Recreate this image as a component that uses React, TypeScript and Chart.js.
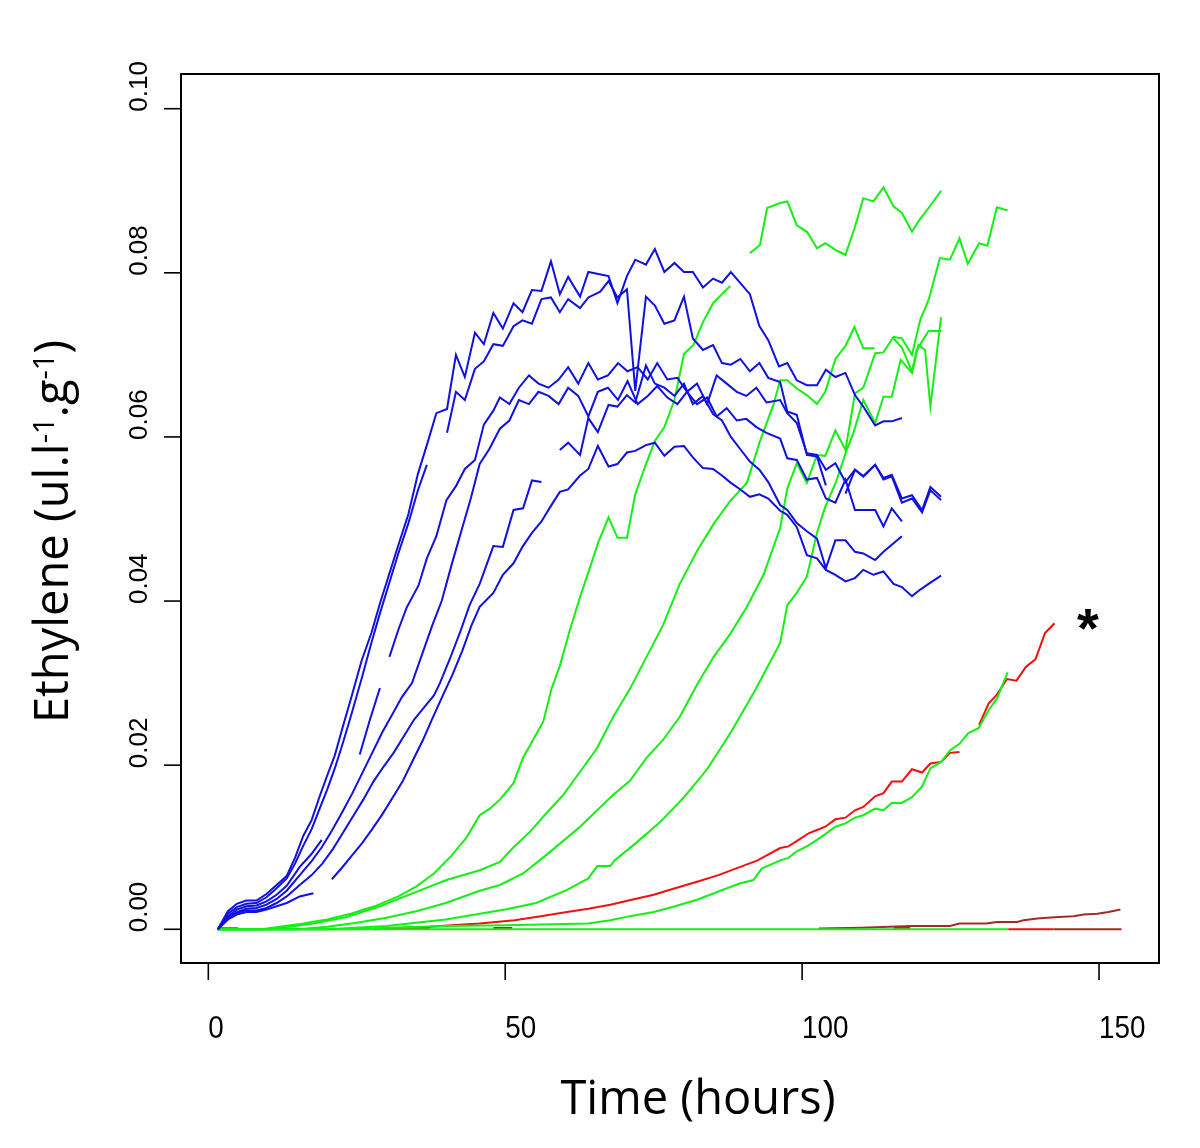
import React, { useEffect, useRef } from "react";
import { Chart, registerables } from "chart.js";

Chart.register(...registerables);

type P = [number, number] | null;

// ---- axis ticks ----
const xTickValues = [0, 50, 100, 150];
const xTickLabels = ["0", "50", "100", "150"];
const yTickValues = [0, 0.02, 0.04, 0.06, 0.08, 0.1];
const yTickLabels = ["0.00", "0.02", "0.04", "0.06", "0.08", "0.10"];

// ---- blue series ----
const blueA1: P[] = [[1.6,0],[3.3,0.0022],[4.8,0.0031],[6.4,0.0035],[8.1,0.0035],[9.8,0.0043],[11.5,0.0054],[13.2,0.0065],[14.6,0.0087],[16.0,0.0114],[17.4,0.0133],[18.8,0.0163],[19.9,0.0185],[21.3,0.0212],[22.7,0.0248],[24.1,0.0283],[25.8,0.0327],[27.5,0.0362],[28.9,0.0397],[30.6,0.0436],[32.0,0.0468],[33.7,0.0506],[35.3,0.0555],[36.8,0.0590],[38.4,0.0629],[40.2,0.0634],[41.7,0.0700],[43.2,0.0673],[44.9,0.0727],[46.4,0.0713],[48.0,0.0751],[49.6,0.0732],[51.4,0.0763],[52.9,0.0752],[54.5,0.0779],[56.1,0.0778],[57.7,0.0814],[59.2,0.0774],[60.6,0.0795],[62.6,0.0771],[64.0,0.0801],[67.4,0.0796],[68.9,0.0763],[70.5,0.0796],[71.9,0.0816],[73.7,0.0810],[75.2,0.0829],[76.8,0.0801],[78.5,0.0812],[80.1,0.0801],[81.6,0.0801],[83.3,0.0782],[85.0,0.0793],[86.5,0.0788],[88.0,0.0801],[91.2,0.0774],[92.8,0.0735],[94.3,0.0718],[96.1,0.0686],[97.5,0.0690],[99.1,0.0669],[100.8,0.0663],[102.5,0.0663],[104.0,0.0682],[105.6,0.0673],[107.3,0.0678],[108.9,0.0651],[110.3,0.0637],[112.3,0.0614],[113.7,0.0619],[115.1,0.0619],[116.8,0.0623]];
const blueA2: P[] = [[1.6,0],[3.3,0.0019],[4.8,0.0027],[6.4,0.0031],[8.1,0.0032],[9.8,0.0039],[11.5,0.0050],[13.2,0.0062],[14.6,0.0080],[16.0,0.0102],[17.4,0.0122],[18.8,0.0148],[20.0,0.0170],[21.3,0.0196],[22.7,0.0228],[24.1,0.0262],[25.8,0.0305],[27.5,0.0350],[28.9,0.0385],[30.6,0.0425],[32.0,0.0458],[33.7,0.0495],[35.3,0.0535],[36.8,0.0566],null,[40.2,0.0605],[41.7,0.0655],[43.2,0.0645],[44.9,0.0683],[46.4,0.0692],[48.0,0.0713],[49.6,0.0711],[51.4,0.0735],[52.9,0.0742],[54.5,0.0738],[56.1,0.0768],[57.7,0.0770],[59.2,0.0752],[60.6,0.0768],[62.6,0.0757],[64.0,0.0770],[66.0,0.0777],[67.4,0.0790],[68.9,0.0770],[70.5,0.0780],[71.9,0.0656],[73.7,0.0771],[75.2,0.0760],[76.8,0.0738],[78.5,0.0742],[80.1,0.0771],[81.6,0.0720],[83.3,0.0706],[85.0,0.0712],[86.5,0.0690],[88.0,0.0688],[89.6,0.0695],[91.2,0.0680],[92.8,0.0690],[94.3,0.0672],[96.3,0.0667],[97.5,0.0631],[99.1,0.0627],[100.8,0.0578],[102.5,0.0576],[104.0,0.0541],null,[107.3,0.0531],[108.9,0.0560],[110.3,0.0552],[112.3,0.0566],[113.7,0.0550],[115.1,0.0554],[116.8,0.0525],[118.5,0.0529],[120.2,0.0511],[121.6,0.0539],[123.4,0.0527]];
const blueB1: P[] = [[1.6,0],[3.3,0.0016],[4.8,0.0024],[6.4,0.0028],[8.1,0.0029],[9.8,0.0034],[11.5,0.0042],[13.2,0.0053],[15.4,0.0076],[17.4,0.0092],[19.1,0.0109],null,[25.5,0.0213],[27.2,0.0255],[28.9,0.0294],null,[30.5,0.0332],[32.0,0.0365],[33.4,0.0392],[35.4,0.0419],[36.8,0.0452],[38.4,0.0479],[40.1,0.0523],[41.7,0.0540],[43.2,0.0561],[44.9,0.0572],[46.4,0.0615],[48.0,0.0632],[49.1,0.0648],[50.7,0.0640],[52.3,0.0660],[54.0,0.0675],[55.6,0.0665],[57.3,0.0660],[59.0,0.0670],[60.6,0.0685],[62.3,0.0665],[64.0,0.0690],[65.6,0.0670],[67.3,0.0675],[69.0,0.0690],[70.6,0.0680],[72.3,0.0685],[74.0,0.0670],[75.6,0.0690],[77.3,0.0670],[79.0,0.0672],[80.6,0.0655],[82.3,0.0665],[84.0,0.0640],[85.6,0.0675],[87.3,0.0665],[89.0,0.0655],[90.6,0.0650],[92.3,0.0660],[94.0,0.0642],[96.3,0.0645],[97.5,0.0629],[99.1,0.0617],[100.8,0.0580],[102.5,0.0578],[104.0,0.0560],[105.6,0.0568],[107.3,0.0545],[108.9,0.0560],[110.3,0.0552],[112.3,0.0566],[113.7,0.0548],[115.1,0.0552],[116.8,0.0520],[118.5,0.0525],[120.2,0.0508],[121.6,0.0535],[123.4,0.0523]];
const blueB2: P[] = [[1.6,0],[3.3,0.0014],[4.8,0.0021],[6.4,0.0025],[8.1,0.0026],[9.8,0.0030],[11.5,0.0037],[13.2,0.0047],[15.4,0.0066],[17.4,0.0083],[19.1,0.0100],[20.8,0.0120],[22.5,0.0142],[24.2,0.0165],[25.9,0.0190],[27.6,0.0215],[29.3,0.0240],[31.0,0.0262],[32.6,0.0283],[34.3,0.0300],[36.0,0.0335],[37.7,0.0370],[39.3,0.0400],[41.0,0.0445],[42.6,0.0485],[44.2,0.0525],[45.7,0.0567],[47.3,0.0585],[49.1,0.0610],[50.7,0.0620],[52.3,0.0645],[54.0,0.0640],[55.6,0.0655],[57.3,0.0650],[59.0,0.0640],[60.6,0.0660],[62.3,0.0650],[64.0,0.0625],[65.6,0.0655],[67.3,0.0660],[69.0,0.0645],[70.6,0.0668],[72.3,0.0640],[74.0,0.0650],[75.6,0.0662],[77.3,0.0648],[79.0,0.0640],[80.6,0.0655],[82.3,0.0640],[84.0,0.0648],[85.6,0.0625],[87.3,0.0635],[89.0,0.0620],[90.6,0.0622],[92.3,0.0612],[94.0,0.0605],[96.3,0.0598],[97.5,0.0574],[99.1,0.0572],[100.8,0.0548],[102.5,0.0550],[104.0,0.0525],[105.6,0.0520],[107.3,0.0548],[108.9,0.0511],[110.3,0.0511],[112.3,0.0511],[113.7,0.0491],[115.1,0.0513],[116.8,0.0497]];
const blueC1: P[] = [[1.6,0],[3.3,0.0013],[4.8,0.0020],[6.4,0.0023],[8.1,0.0023],[9.8,0.0026],[11.5,0.0032],[13.2,0.0040],[15.4,0.0054],[17.4,0.0066],[19.2,0.0080],[21.0,0.0098],[22.7,0.0118],[24.4,0.0138],[26.1,0.0158],[27.8,0.0180],[29.5,0.0198],[31.2,0.0215],[32.9,0.0235],[34.6,0.0255],[36.3,0.0270],[38.0,0.0285],[39.0,0.0300],[40.7,0.0330],[42.4,0.0362],[44.0,0.0395],[45.7,0.0421],[48.0,0.0467],[49.6,0.0466],[51.4,0.0511],[53.0,0.0513],[54.5,0.0547],[56.1,0.0545],null,[59.2,0.0584],[60.6,0.0593],[62.6,0.0578],[64.0,0.0623],[65.6,0.0606],[67.4,0.0639],[68.9,0.0637],[70.5,0.0651],[71.9,0.0642],[73.7,0.0687],[75.2,0.0665],[76.8,0.0660],[78.5,0.0650],[80.1,0.0665],[81.6,0.0640],[83.3,0.0650],[85.0,0.0628],[86.5,0.0620],[88.0,0.0600],[89.6,0.0585],[91.2,0.0570],[92.8,0.0560],[94.3,0.0545],[96.3,0.0517],[97.5,0.0511],[99.1,0.0495],[100.8,0.0485],[102.5,0.0476],[104.0,0.0440],[105.6,0.0474],[107.3,0.0474],[108.9,0.0460],[110.3,0.0458],[112.3,0.0450],[113.7,0.0460],[116.8,0.0479]];
const blueC2: P[] = [[1.6,0],[3.3,0.0012],[4.8,0.0018],[6.4,0.0021],[8.1,0.0021],[9.8,0.0024],[11.5,0.0028],[13.2,0.0032],[15.4,0.0040],[17.7,0.0044],null,[20.8,0.0061],[22.5,0.0075],[24.2,0.0090],[25.9,0.0105],[27.6,0.0122],[29.3,0.0140],[31.0,0.0160],[32.7,0.0180],[34.4,0.0205],[36.1,0.0230],[37.8,0.0258],[39.5,0.0285],[41.1,0.0310],[42.8,0.0340],[44.3,0.0370],[45.7,0.0393],[48.0,0.0410],[49.6,0.0432],[51.4,0.0446],[52.9,0.0466],[54.5,0.0483],[56.1,0.0497],[57.7,0.0516],[59.2,0.0533],[60.6,0.0536],[62.6,0.0553],[64.0,0.0561],[65.6,0.0589],[67.4,0.0564],[68.9,0.0567],[70.5,0.0581],[71.9,0.0583],[73.7,0.0590],[75.2,0.0593],[76.8,0.0577],[78.5,0.0588],[80.1,0.0589],[81.6,0.0575],[83.3,0.0562],[85.0,0.0561],[86.5,0.0553],[88.0,0.0544],[89.6,0.0536],[91.2,0.0527],[92.8,0.0530],[94.3,0.0525],[96.3,0.0510],[97.5,0.0505],[99.1,0.0490],[100.8,0.0456],[102.5,0.0452],[104.0,0.0438],[105.6,0.0432],[107.3,0.0424],[108.9,0.0428],[110.3,0.0438],[112.0,0.0432],[113.7,0.0436],[115.4,0.0421],[116.8,0.0417],[118.5,0.0406],[119.9,0.0414],[121.3,0.0421],[123.4,0.0431]];

// ---- green series ----
const greenG1: P[] = [[1.6,0],[9,0],[12,0.0003],[16,0.0007],[20,0.0012],[24,0.0019],[28,0.0028],[32,0.0040],[35,0.0052],[38,0.0068],[41,0.0090],[43.5,0.0112],[45.7,0.0139],[47.4,0.0147],[49.1,0.0158],[51.4,0.0178],[53.0,0.0209],[54.7,0.0231],[56.4,0.0253],[57.8,0.0293],[59.2,0.0321],[60.9,0.0365],[62.6,0.0405],[64.0,0.0435],[65.7,0.0472],[67.4,0.0502],[68.9,0.0477],[70.5,0.0477],[71.9,0.0530],[73.7,0.0567],[75.2,0.0595],[76.8,0.0612],[78.5,0.0645],[80.1,0.0701],[81.7,0.0712],[83.3,0.0740],[85.0,0.0763],[86.5,0.0774],[87.9,0.0784],null,[91.2,0.0824],[92.9,0.0834],[94.1,0.0879],[96.3,0.0885],[97.5,0.0887],[99.1,0.0858],[100.8,0.0850],[102.5,0.0830],[103.9,0.0836],[105.6,0.0828],[107.3,0.0822],[108.9,0.0856],[110.3,0.0891],[112.0,0.0887],[113.7,0.0904],[115.4,0.0881],[116.8,0.0873],[118.5,0.0850],[119.9,0.0866],[121.3,0.0879],[123.4,0.0900]];
const greenG2: P[] = [[1.6,0],[10,0],[13.7,0.0003],[17.7,0.0007],[23.3,0.0015],[28.9,0.0028],[34.5,0.0044],[40.1,0.0060],[45.7,0.0072],[49.1,0.0082],[51.4,0.0100],[54.2,0.0119],[57.0,0.0142],[59.8,0.0164],[62.6,0.0192],[65.4,0.0220],[68.2,0.0259],[71.0,0.0293],[73.8,0.0332],[76.6,0.0371],[79.4,0.0421],[82.3,0.0461],[85.1,0.0494],[87.9,0.0522],[90.7,0.0544],[92.9,0.0595],[95.2,0.0640],[96.3,0.0669],[97.5,0.0669],[99.1,0.0659],[100.8,0.0651],[102.5,0.0640],[103.9,0.0655],[105.6,0.0695],[107.3,0.0711],[108.8,0.0734],[110.3,0.0708],[112.2,0.0708],null,[115.4,0.0720],[116.8,0.0709],[118.5,0.0680],[119.3,0.0706],[121.3,0.0729],[123.4,0.0729]];
const greenG3: P[] = [[1.6,0],[15,0],[20,0.0003],[25,0.0008],[30,0.0014],[35,0.0022],[40,0.0032],[45.7,0.0047],[49.1,0.0054],[53.0,0.0068],[57.0,0.0091],[62.6,0.0125],[68.2,0.0164],[71.0,0.0181],[73.8,0.0209],[76.6,0.0231],[79.4,0.0259],[82.3,0.0298],[85.1,0.0332],[87.9,0.0360],[90.7,0.0393],[93.5,0.0432],[96.3,0.0489],[97.5,0.0537],[99.1,0.0568],[100.8,0.0544],[102.5,0.0578],[103.9,0.0577],[105.6,0.0608],[107.3,0.0584],[108.9,0.0653],[110.3,0.0660],[112.3,0.0702],[113.7,0.0703],[115.4,0.0722],[116.8,0.0720],[118.5,0.0700],[119.9,0.0743],[121.3,0.0767],[123.2,0.0818],[124.9,0.0816],[126.5,0.0842],[127.9,0.0811],[129.8,0.0836],[131.2,0.0833],[132.8,0.0880],[134.6,0.0876]];
const greenG4: P[] = [[1.6,0],[20,0],[30,0.0004],[40,0.0012],[45.7,0.0019],[50.0,0.0024],[55.2,0.0032],[60.4,0.0048],[64.0,0.0062],[65.5,0.0077],[67.7,0.0077],[68.4,0.0084],[72,0.0105],[76,0.0130],[80,0.0160],[84,0.0195],[88,0.0240],[92,0.0290],[96.3,0.0349],[97.5,0.0395],[99.1,0.0410],[100.8,0.0430],[102.5,0.0483],[103.9,0.0515],[105.6,0.0543],[107.5,0.0584],[108.6,0.0604],[110.3,0.0645],[112.3,0.0617],[113.7,0.0649],[115.1,0.0649],[116.6,0.0694],[118.5,0.0678],[119.6,0.0712],[120.7,0.0706],[121.6,0.0637],[123.4,0.0746]];
const greenLow: P[] = [[1.6,0],[25,0],[30,0.0002],[40,0.0004],[50,0.0005],[58,0.0006],[64,0.0007],[67.7,0.0011],[71,0.0016],[75,0.0021],[78.6,0.0028],[82.3,0.0036],[85.9,0.0046],[89.6,0.0056],[91.8,0.0060],[93.2,0.0074],[96.3,0.0084],[97.7,0.0087],[99.1,0.0095],[100.8,0.0101],[102.5,0.0109],[103.9,0.0116],[105.6,0.0125],[107.3,0.0129],[108.9,0.0136],[110.3,0.0139],[112.3,0.0147],[113.7,0.0145],[115.1,0.0154],[116.8,0.0154],[118.5,0.0161],[120.2,0.0174],[121.6,0.0196],[123.4,0.0204],[124.9,0.0218],[126.5,0.0226],[128.0,0.0239],[129.7,0.0245],[131.4,0.0267],[132.8,0.0281],[134.6,0.0313]];
const greenBase: P[] = [[1.6,0],[134.7,0]];

// ---- red / brown series ----
const redR1: P[] = [[28,0],[33,0.0002],[37.3,0.0003],[41,0.0005],[45.7,0.0007],[51.6,0.0011],[56,0.0016],[60.4,0.0021],[64,0.0025],[67.7,0.0030],[71.3,0.0036],[75,0.0042],[78.6,0.0050],[82.3,0.0058],[85.9,0.0066],[89.6,0.0076],[92.5,0.0084],[96.3,0.0099],[97.7,0.0101],[99.4,0.0109],[101.1,0.0117],[102.5,0.0121],[103.9,0.0125],[105.6,0.0134],[107.3,0.0136],[108.9,0.0145],[110.3,0.0149],[112.3,0.0162],[113.7,0.0166],[115.1,0.0180],[116.8,0.0180],[118.5,0.0195],[120.2,0.0191],[121.6,0.0202],[123.4,0.0204],[124.9,0.0215],[126.5,0.0216],null,[129.8,0.0249],[131.4,0.0275],[132.8,0.0286],[134.5,0.0305],[136.1,0.0303],[137.7,0.0320],[139.3,0.0329],[140.9,0.0361],[142.5,0.0373]];
const redBase: P[] = [[1.6,0.00012],[5,0.00012],null,[24.4,0.00015],[27.2,0.00015],null,[30.6,0.00015],[37.3,0.00015],null,[48,0.00015],[51.2,0.00015],null,[115.4,0.00015],[118.2,0.00015],null,[134.7,0],[142.3,0]];
const brownRise: P[] = [[102.8,0.0001],[110,0.0002],[118.2,0.0004],[124.9,0.0004],[126.5,0.0007],[131,0.0007],[132.8,0.0009],[136.2,0.0009],[137.3,0.0011],[139.6,0.0013],[141.3,0.0014],[143.2,0.0015],[145.7,0.0016],[147.4,0.0018],[149.7,0.0019],[151.6,0.0021],[153.6,0.0024]];
const brownBase: P[] = [[142.3,0],[153.8,0]];

const BLUE = "#1010e0";
const GREEN = "#14f014";
const RED = "#f01010";
const BROWN = "#a52a2a";

// bottom-to-top drawing order
const layers: { pts: P[]; color: string }[] = [
  { pts: brownBase, color: BROWN },
  { pts: redBase, color: RED },
  { pts: brownRise, color: BROWN },
  { pts: redR1, color: RED },
  { pts: greenLow, color: GREEN },
  { pts: greenBase, color: GREEN },
  { pts: greenG4, color: GREEN },
  { pts: greenG3, color: GREEN },
  { pts: greenG2, color: GREEN },
  { pts: greenG1, color: GREEN },
  { pts: blueC2, color: BLUE },
  { pts: blueC1, color: BLUE },
  { pts: blueB2, color: BLUE },
  { pts: blueB1, color: BLUE },
  { pts: blueA2, color: BLUE },
  { pts: blueA1, color: BLUE },
];

const X_MIN = -4.6;
const X_MAX = 160.1;
const Y_MIN = -0.00411;
const Y_MAX = 0.10423;

function toXY(pts: P[]) {
  const out: { x: number; y: number | null }[] = [];
  pts.forEach((p, i) => {
    if (p) out.push({ x: p[0], y: p[1] });
    else {
      const a = pts[i - 1] as [number, number];
      const b = pts[i + 1] as [number, number];
      out.push({ x: (a[0] + b[0]) / 2, y: null });
    }
  });
  return out;
}

const framePlugin = {
  id: "frame",
  afterDraw(chart: any) {
    const { ctx, chartArea: ca, scales } = chart;
    const xs = scales.x;
    const ys = scales.y;
    ctx.save();
    ctx.strokeStyle = "#000";
    ctx.fillStyle = "#000";
    ctx.lineWidth = 2;
    ctx.strokeRect(ca.left, ca.top, ca.right - ca.left, ca.bottom - ca.top);
    ctx.lineWidth = 1.6;
    // x ticks
    xTickValues.forEach((v, i) => {
      const px = xs.getPixelForValue(v);
      ctx.beginPath();
      ctx.moveTo(px, ca.bottom);
      ctx.lineTo(px, ca.bottom + 17);
      ctx.stroke();
      ctx.save();
      ctx.translate(px, 1038);
      ctx.scale(0.87, 1);
      ctx.font = '32px "Liberation Sans", Arial, sans-serif';
      ctx.textAlign = "left";
      ctx.textBaseline = "alphabetic";
      ctx.fillText(xTickLabels[i], 0, 0);
      ctx.restore();
    });
    // y ticks
    yTickValues.forEach((v, i) => {
      const py = ys.getPixelForValue(v);
      ctx.beginPath();
      ctx.moveTo(ca.left - 17, py);
      ctx.lineTo(ca.left, py);
      ctx.stroke();
      ctx.save();
      ctx.translate(146.5, py + 3);
      ctx.rotate(-Math.PI / 2);
      ctx.font = '26px "Liberation Sans", Arial, sans-serif';
      ctx.textAlign = "left";
      ctx.textBaseline = "alphabetic";
      ctx.fillText(yTickLabels[i], 0, 0);
      ctx.restore();
    });
    // x title
    ctx.font = '47px "Open Sans", sans-serif';
    ctx.textAlign = "center";
    ctx.textBaseline = "alphabetic";
    ctx.fillText("Time (hours)", 698, 1114);
    // y title with superscripts
    ctx.save();
    ctx.translate(68, 723);
    ctx.rotate(-Math.PI / 2);
    ctx.textAlign = "left";
    const parts: [string, string, number][] = [
      ["Ethylene (ul.l", '47px "Open Sans", sans-serif', 0],
      ["-1", '29px "Open Sans", sans-serif', -14],
      [".g", '47px "Open Sans", sans-serif', 0],
      ["-1", '29px "Open Sans", sans-serif', -14],
      [")", '47px "Open Sans", sans-serif', 0],
    ];
    let cx = 0;
    parts.forEach(([t, f, dy]) => {
      ctx.font = f;
      ctx.fillText(t, cx, dy);
      cx += ctx.measureText(t).width;
    });
    ctx.restore();
    // asterisk
    ctx.font = 'bold 56px "Liberation Sans", Arial, sans-serif';
    ctx.textAlign = "center";
    ctx.fillText("*", 1088, 647);
    ctx.restore();
  },
};

export default function App() {
  const ref = useRef<HTMLCanvasElement>(null);
  useEffect(() => {
    const datasets = layers.map((l, i) => ({
      data: toXY(l.pts),
      borderColor: l.color,
      backgroundColor: l.color,
      borderWidth: 2,
      pointRadius: 0,
      showLine: true,
      spanGaps: false,
      fill: false,
      tension: 0,
      order: layers.length - i,
    }));
    const chart = new Chart(ref.current as HTMLCanvasElement, {
      type: "scatter",
      data: { datasets },
      options: {
        responsive: false,
        maintainAspectRatio: false,
        animation: false,
        devicePixelRatio: 1,
        events: [],
        layout: { padding: { left: 181, right: 41, top: 74, bottom: 185 } },
        plugins: { legend: { display: false }, tooltip: { enabled: false } },
        scales: {
          x: { type: "linear", min: X_MIN, max: X_MAX, display: false },
          y: { type: "linear", min: Y_MIN, max: Y_MAX, display: false },
        },
      },
      plugins: [framePlugin],
    } as any);
    return () => chart.destroy();
  }, []);
  return (
    <div style={{ position: "absolute", left: 0, top: 0, width: 1200, height: 1148, background: "#fff" }}>
      <canvas ref={ref} width={1200} height={1148} style={{ display: "block", width: 1200, height: 1148 }} />
    </div>
  );
}
